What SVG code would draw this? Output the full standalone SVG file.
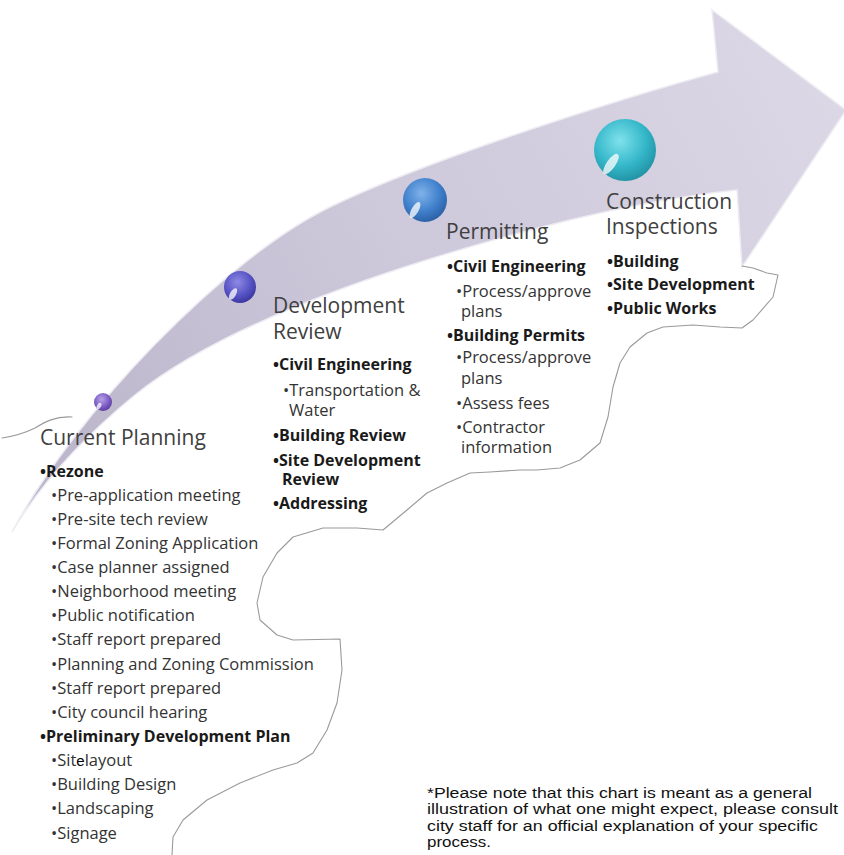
<svg xmlns="http://www.w3.org/2000/svg" width="844" height="855" viewBox="0 0 844 855">
<defs>
<linearGradient id="arrowGrad" x1="0" y1="530" x2="844" y2="60" gradientUnits="userSpaceOnUse">
<stop offset="0" stop-color="#b9b3c9"/>
<stop offset="0.5" stop-color="#cdc8da"/>
<stop offset="1" stop-color="#dcd8e6"/>
</linearGradient>
<radialGradient id="s1" cx="0.42" cy="0.35" r="0.7"><stop offset="0" stop-color="#b8a2e6"/><stop offset="0.6" stop-color="#7d5cc4"/><stop offset="1" stop-color="#55389a"/></radialGradient>
<radialGradient id="s2" cx="0.42" cy="0.35" r="0.7"><stop offset="0" stop-color="#8e8ae6"/><stop offset="0.6" stop-color="#5753c4"/><stop offset="1" stop-color="#37339a"/></radialGradient>
<radialGradient id="s3" cx="0.42" cy="0.35" r="0.7"><stop offset="0" stop-color="#7fb2ea"/><stop offset="0.6" stop-color="#3f7fcb"/><stop offset="1" stop-color="#2a5ca0"/></radialGradient>
<radialGradient id="s4" cx="0.42" cy="0.35" r="0.7"><stop offset="0" stop-color="#7fe2ec"/><stop offset="0.6" stop-color="#33b6c8"/><stop offset="1" stop-color="#1f8ea0"/></radialGradient>
</defs>
<style>
.head{font-family:"Open Sans","Noto Sans",sans-serif;font-size:21px;fill:#404040}
.b{font-family:"Open Sans","Noto Sans",sans-serif;font-size:16px;font-weight:bold;fill:#1a1a1a}
.s{font-family:"Open Sans","Noto Sans",sans-serif;font-size:16.5px;fill:#333}
.note{font-family:"Liberation Sans",Arial,sans-serif;font-size:15.5px;fill:#111}
.edge{fill:none;stroke:#9a9a9a;stroke-width:1.1;stroke-linejoin:round;stroke-linecap:round}
.hl{fill:#fff;opacity:0.75}
</style>
<g id="arrow">
<path d="M12,532 C75,413 225,258 330,207 S640,93 718,72 L712,10 L846,110 L742,267 L737,190 C640,200 530,228 433,258 C330,290 210,335 135,395 C80,440 40,485 12,532 Z" fill="url(#arrowGrad)" stroke="#eeecf3" stroke-width="1.5"/>
</g>
<g id="connectors">
<path class="edge" d="M2,438 C15,436 25,433 35,428 C45,422 55,416 72,417"/>
<path class="edge" d="M742,266 L753,268 L767,273 L778,275 L773,297 L753,320 L742,328 L720,327 L693,325 L663,327 L647,333 L630,347 L620,363 L613,387 L608,417 L600,443 L580,460 L560,468 L537,470 L520,470 L490,472 L470,473 L447,483 L427,493 L407,510 L383,530 L357,528 L323,528 L293,537 L277,553 L263,577 L257,603 L260,620 L277,635 L293,640 L340,639 L342,670 L337,703 L327,730 L313,753 L297,763 L273,770 L240,783 L207,800 L183,820 L173,837 L172,855"/>
</g>
<g id="step1">
<circle cx="103" cy="402" r="9" fill="url(#s1)"/>
<ellipse class="hl" cx="99" cy="406" rx="2" ry="3.5" transform="rotate(30 99 406)"/>
<text class="head" x="40" y="445">Current Planning</text>
<text class="b" x="40" y="477">•Rezone</text>
<text class="s" x="51" y="501">•Pre-application meeting</text>
<text class="s" x="51" y="525">•Pre-site tech review</text>
<text class="s" x="51" y="549">•Formal Zoning Application</text>
<text class="s" x="51" y="573">•Case planner assigned</text>
<text class="s" x="51" y="597">•Neighborhood meeting</text>
<text class="s" x="51" y="621">•Public notification</text>
<text class="s" x="51" y="645">•Staff report prepared</text>
<text class="s" x="51" y="670">•Planning and Zoning Commission</text>
<text class="s" x="51" y="694">•Staff report prepared</text>
<text class="s" x="51" y="718">•City council hearing</text>
<text class="b" x="40" y="742">•Preliminary Development Plan</text>
<text class="s" x="51" y="766">•Sit<tspan font-family="Liberation Sans, sans-serif" font-size="15" fill="#000">e</tspan>layout</text>
<text class="s" x="51" y="790">•Building Design</text>
<text class="s" x="51" y="814">•Landscaping</text>
<text class="s" x="51" y="839">•Signage</text>
</g>
<g id="step2">
<circle cx="240" cy="287" r="16" fill="url(#s2)"/>
<ellipse class="hl" cx="233" cy="294" rx="3" ry="6.5" transform="rotate(30 233 294)"/>
<text class="head" x="273" y="313">Development</text>
<text class="head" x="273" y="339">Review</text>
<text class="b" x="273" y="370">•Civil Engineering</text>
<text class="s" x="283" y="396">•Transportation &amp;</text>
<text class="s" x="289" y="416">Water</text>
<text class="b" x="273" y="441">•Building Review</text>
<text class="b" x="273" y="466">•Site Development</text>
<text class="b" x="282" y="485">Review</text>
<text class="b" x="273" y="509">•Addressing</text>
</g>
<g id="step3">
<circle cx="425" cy="200" r="22" fill="url(#s3)"/>
<ellipse class="hl" cx="415" cy="210" rx="3.5" ry="9" transform="rotate(30 415 210)"/>
<text class="head" x="446" y="239">Permitting</text>
<text class="b" x="447" y="272">•Civil Engineering</text>
<text class="s" x="456" y="297">•Process/approve</text>
<text class="s" x="461" y="317">plans</text>
<text class="b" x="447" y="341">•Building Permits</text>
<text class="s" x="456" y="363">•Process/approve</text>
<text class="s" x="461" y="384">plans</text>
<text class="s" x="456" y="409">•Assess fees</text>
<text class="s" x="456" y="433">•Contractor</text>
<text class="s" x="461" y="453">information</text>
</g>
<g id="step4">
<circle cx="625" cy="150" r="31" fill="url(#s4)"/>
<ellipse class="hl" cx="611" cy="164" rx="4.5" ry="12" transform="rotate(35 611 164)"/>
<text class="head" x="606" y="209">Construction</text>
<text class="head" x="606" y="234">Inspections</text>
<text class="b" x="607" y="267">•Building</text>
<text class="b" x="607" y="290">•Site Development</text>
<text class="b" x="607" y="314">•Public Works</text>
</g>
<g id="footnote">
<text class="note" x="427" y="798" textLength="385" lengthAdjust="spacingAndGlyphs">*Please note that this chart is meant as a general</text>
<text class="note" x="427" y="814" textLength="411" lengthAdjust="spacingAndGlyphs">illustration of what one might expect, please consult</text>
<text class="note" x="427" y="831" textLength="391" lengthAdjust="spacingAndGlyphs">city staff for an official explanation of your specific</text>
<text class="note" x="427" y="847" textLength="64" lengthAdjust="spacingAndGlyphs">process.</text>
</g>
</svg>
